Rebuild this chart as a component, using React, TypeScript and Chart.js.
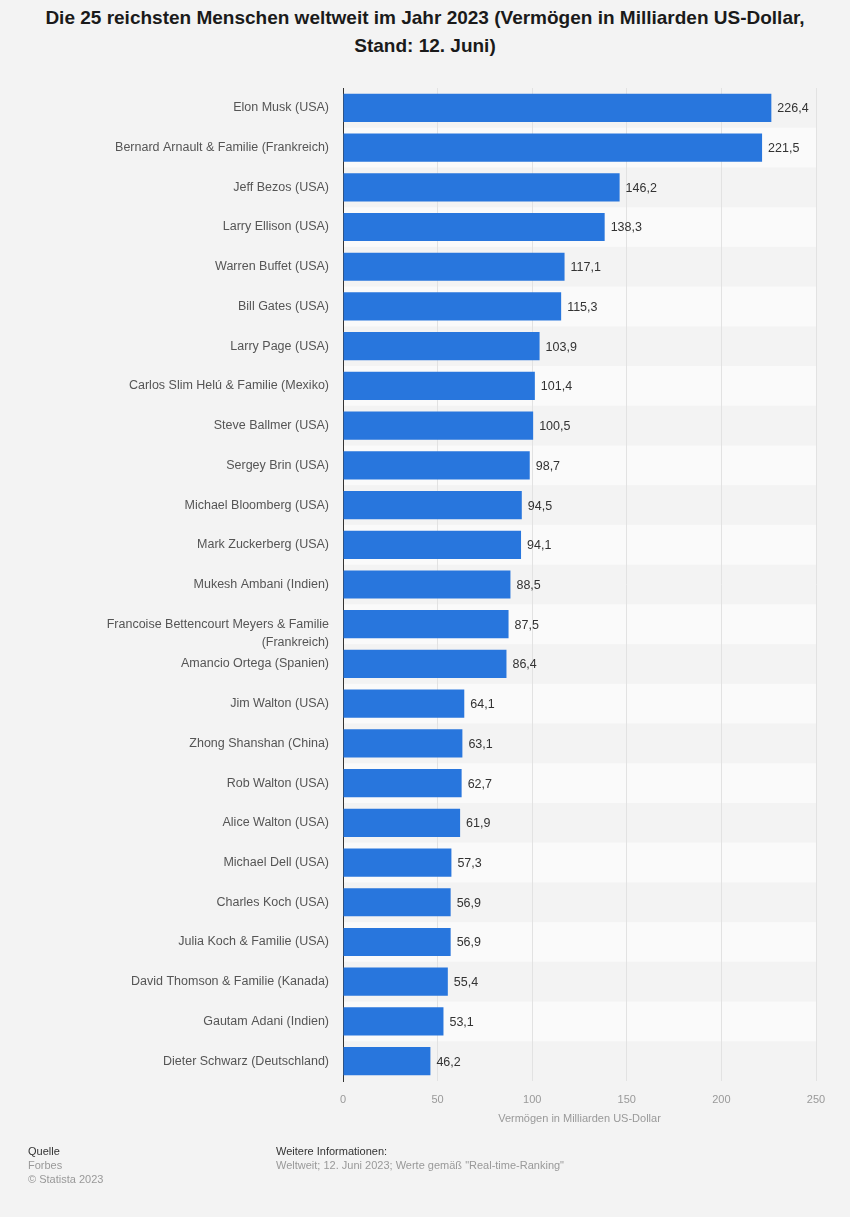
import { useEffect, useRef } from "react";
import { Chart, registerables } from "chart.js";

Chart.register(...registerables);

const names: (string | string[])[] = [
  "Elon Musk (USA)",
  "Bernard Arnault & Familie (Frankreich)",
  "Jeff Bezos (USA)",
  "Larry Ellison (USA)",
  "Warren Buffet (USA)",
  "Bill Gates (USA)",
  "Larry Page (USA)",
  "Carlos Slim Helú & Familie (Mexiko)",
  "Steve Ballmer (USA)",
  "Sergey Brin (USA)",
  "Michael Bloomberg (USA)",
  "Mark Zuckerberg (USA)",
  "Mukesh Ambani (Indien)",
  ["", "Francoise Bettencourt Meyers & Familie", "(Frankreich)"],
  "Amancio Ortega (Spanien)",
  "Jim Walton (USA)",
  "Zhong Shanshan (China)",
  "Rob Walton (USA)",
  "Alice Walton (USA)",
  "Michael Dell (USA)",
  "Charles Koch (USA)",
  "Julia Koch & Familie (USA)",
  "David Thomson & Familie (Kanada)",
  "Gautam Adani (Indien)",
  "Dieter Schwarz (Deutschland)",
];

const wealth: number[] = [
  226.4, 221.5, 146.2, 138.3, 117.1, 115.3, 103.9, 101.4, 100.5, 98.7, 94.5,
  94.1, 88.5, 87.5, 86.4, 64.1, 63.1, 62.7, 61.9, 57.3, 56.9, 56.9, 55.4, 53.1,
  46.2,
];

const xMin = 0;
const xMax = 250;
const xStep = 50;

const titleLines = [
  "Die 25 reichsten Menschen weltweit im Jahr 2023 (Vermögen in Milliarden US-Dollar,",
  "Stand: 12. Juni)",
];
const axisTitle = "Vermögen in Milliarden US-Dollar";

const FONT = "'Liberation Sans', Arial, Helvetica, sans-serif";

const fmt = (v: number) => v.toFixed(1).replace(".", ",");

export default function App() {
  const ref = useRef<HTMLCanvasElement>(null);

  useEffect(() => {
    document.body.style.margin = "0";
    const canvas = ref.current;
    if (!canvas) return;

    const bands = {
      id: "bands",
      beforeDraw(chart: any) {
        const { ctx, chartArea } = chart;
        const y = chart.scales.y;
        const n = names.length;
        const pitch = (chartArea.bottom - chartArea.top) / n;
        ctx.save();
        for (let i = 0; i < n; i++) {
          if (i % 2 === 1) {
            const c = y.getPixelForValue(i);
            ctx.fillStyle = "#fafafa";
            ctx.fillRect(chartArea.left, c - pitch / 2, chartArea.right - chartArea.left, pitch);
          }
        }
        ctx.restore();
      },
    };

    const valueLabels = {
      id: "valueLabels",
      afterDatasetsDraw(chart: any) {
        const { ctx } = chart;
        const meta = chart.getDatasetMeta(0);
        ctx.save();
        ctx.font = `12.5px ${FONT}`;
        ctx.fillStyle = "#333333";
        ctx.textAlign = "left";
        ctx.textBaseline = "middle";
        meta.data.forEach((bar: any, i: number) => {
          ctx.fillText(fmt(wealth[i]), bar.x + 6, bar.y + 1);
        });
        ctx.restore();
      },
    };

    const chart = new Chart(canvas, {
      type: "bar",
      data: {
        labels: names,
        datasets: [
          {
            data: wealth,
            backgroundColor: "#2876dd",
            borderWidth: 0,
            barPercentage: 0.71,
            categoryPercentage: 1,
          },
        ],
      },
      options: {
        indexAxis: "y",
        animation: false,
        responsive: false,
        maintainAspectRatio: false,
        layout: { padding: { top: 88, right: 34, left: 0, bottom: 0 } },
        plugins: {
          legend: { display: false },
          tooltip: { enabled: false },
          title: { display: false },
        },
        scales: {
          x: {
            min: xMin,
            max: xMax,
            ticks: {
              stepSize: xStep,
              color: "#999999",
              font: { family: FONT, size: 11 },
              padding: 12,
            },
            grid: { color: "#e2e2e2", drawTicks: false, lineWidth: 1 },
            border: { display: false },
            title: {
              display: true,
              text: axisTitle,
              color: "#999999",
              font: { family: FONT, size: 11 },
              padding: { top: 6, bottom: 91 },
            },
            afterFit(scale: any) {
              scale.height = 1217 - 1081;
            },
          },
          y: {
            ticks: {
              autoSkip: false,
              color: "#555555",
              font: { family: FONT, size: 12.5, lineHeight: 1.5 },
              padding: 14,
            },
            grid: { display: false, drawTicks: false },
            border: { display: true, color: "#333333", width: 1 },
            afterFit(scale: any) {
              scale.width = 343;
            },
          },
        },
      },
      plugins: [bands, valueLabels],
    } as any);

    return () => chart.destroy();
  }, []);

  const small = { fontFamily: FONT, fontSize: 11, lineHeight: "14px", position: "absolute" as const };

  return (
    <div
      style={{
        position: "relative",
        width: 850,
        height: 1217,
        background: "#f3f3f3",
        overflow: "hidden",
      }}
    >
      <div
        style={{
          position: "absolute",
          top: 4,
          left: 0,
          width: 850,
          textAlign: "center",
          fontFamily: FONT,
          fontWeight: "bold",
          fontSize: 19,
          lineHeight: "28px",
          color: "#1a1a1a",
        }}
      >
        {titleLines.map((t, i) => (
          <div key={i}>{t}</div>
        ))}
      </div>
      <canvas ref={ref} width={850} height={1217} style={{ position: "absolute", left: 0, top: 0 }} />
      <div style={{ ...small, left: 28, top: 1144, color: "#333333" }}>Quelle</div>
      <div style={{ ...small, left: 28, top: 1158, color: "#999999" }}>Forbes</div>
      <div style={{ ...small, left: 28, top: 1172, color: "#999999" }}>© Statista 2023</div>
      <div style={{ ...small, left: 276, top: 1144, color: "#333333" }}>Weitere Informationen:</div>
      <div style={{ ...small, left: 276, top: 1158, color: "#999999" }}>
        Weltweit; 12. Juni 2023; Werte gemäß "Real-time-Ranking"
      </div>
    </div>
  );
}
